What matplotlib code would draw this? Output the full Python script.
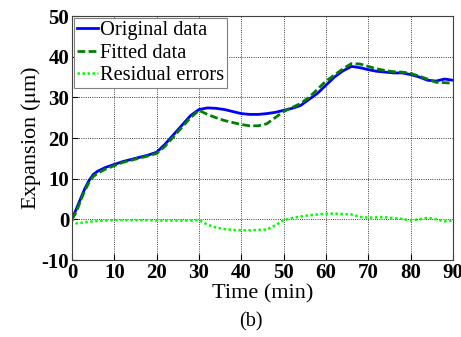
import matplotlib.pyplot as plt
import numpy as np

plt.rcParams["font.family"] = ["Liberation Serif", "DejaVu Serif"]
plt.rcParams["mathtext.fontset"] = "stix"
plt.rcParams["axes.unicode_minus"] = False

time = [0, 1, 2, 3, 4, 5, 6, 8, 10, 12, 15, 18, 20, 22, 25, 28, 30, 32, 34, 36,
        38, 40, 42, 44, 46, 48, 50, 52, 54, 56, 58, 60, 62, 64, 66, 68, 70, 72,
        74, 76, 78, 80, 82, 84, 86, 88, 90]
original = [0, 2.5, 5, 7.5, 9.5, 11, 11.8, 12.8, 13.5, 14.2, 15, 15.8, 16.5,
            18.5, 22, 25.5, 27, 27.4, 27.3, 27, 26.5, 26, 25.8, 25.8, 26, 26.3,
            26.8, 27.3, 28, 29.5, 31, 33, 35, 36.5, 37.6, 37.3, 36.8, 36.4,
            36.2, 36, 36, 35.6, 35, 34.2, 34, 34.5, 34.2]
fitted = [0, 1.8, 4.5, 7, 9, 10.5, 11.3, 12.4, 13.2, 14, 14.8, 15.6, 16.2, 18,
          21.5, 25, 26.8, 25.8, 25, 24.3, 23.8, 23.3, 23, 23, 23.5, 25, 26.5,
          27.5, 28.5, 30, 32, 34, 35.5, 37, 38.3, 38.2, 37.6, 37, 36.6, 36.3,
          36.2, 35.9, 35.2, 34.5, 33.7, 33.6, 33.5]
residual = [0, -1, -0.9, -0.7, -0.6, -0.5, -0.4, -0.3, -0.2, -0.2, -0.2, -0.2,
            -0.3, -0.3, -0.3, -0.3, -0.2, -1.3, -2, -2.4, -2.6, -2.7, -2.7,
            -2.6, -2.5, -1.5, -0.2, 0.3, 0.7, 1, 1.2, 1.4, 1.4, 1.3, 1.2, 0.6,
            0.4, 0.5, 0.5, 0.3, 0.1, -0.3, 0, 0.4, 0, -0.5, -0.3]

fig = plt.figure(figsize=(4.61, 3.37), dpi=100)
ax = fig.add_axes([72 / 461, 1 - 260 / 337, 381 / 461, 244 / 337])

ax.plot(time, original, color="#0000ff", lw=2, label="Original data")
ax.plot(time, fitted, color="#008000", lw=2, ls="--", dashes=(2.8, 1.2),
        label="Fitted data")
ax.plot(time, residual, color="#00ff00", lw=1.8, ls=":", dashes=(1, 1),
        label="Residual errors")

ax.set_xlim(0, 90)
ax.set_ylim(-10, 50)
ax.set_xticks(np.arange(0, 91, 10))
ax.set_yticks(np.arange(-10, 51, 10))
ax.grid(True, color="black", ls=":", lw=0.6)
ax.tick_params(direction="in", labelsize=15, length=4, pad=2)
for lbl in ax.get_xticklabels() + ax.get_yticklabels():
    lbl.set_fontweight("bold")
for s in ax.spines.values():
    s.set_color("#404040")

ax.set_xlabel("Time (min)", fontsize=16)
ax.set_ylabel("Expansion ($\\mathrm{\\mu}$m)", fontsize=16)
ax.xaxis.set_label_coords(0.5, -0.1)
ax.yaxis.set_label_coords(-0.076, 0.5)

leg = ax.legend(loc="upper left", fontsize=14.7, handlelength=1.0,
                handletextpad=0.1, borderaxespad=0.1, borderpad=0.15,
                labelspacing=0.15, fancybox=False, framealpha=1)
leg.get_frame().set_edgecolor("#808080")
leg.get_frame().set_linewidth(0.8)

fig.text(251 / 461, 1 - 322 / 337, "(b)", fontsize=14.5, ha="center",
         va="center")

fig.savefig("out.png", dpi=100)
